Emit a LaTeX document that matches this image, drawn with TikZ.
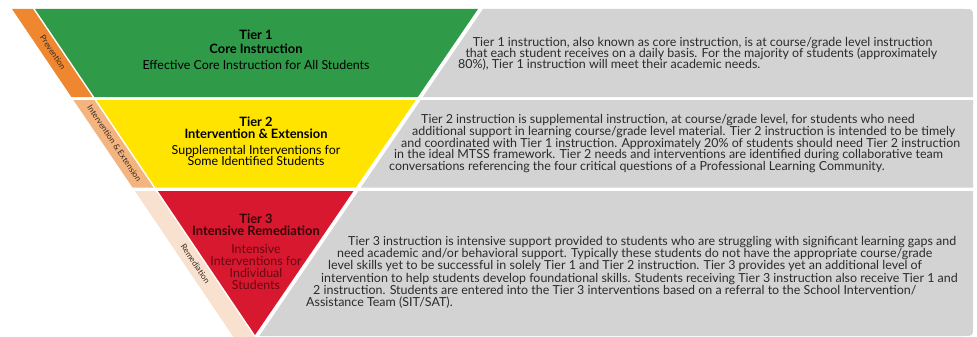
\documentclass[tikz,border=0pt]{standalone}
\usepackage{fontspec}
\setmainfont{Lato}
\definecolor{tgreen}{HTML}{2F9A48}
\definecolor{tyellow}{HTML}{FFE400}
\definecolor{tred}{HTML}{D7182F}
\definecolor{pgray}{HTML}{D3D3D3}
\definecolor{sorange}{HTML}{EE8730}
\definecolor{slight}{HTML}{F3B47F}
\definecolor{speach}{HTML}{F8E1CE}
\definecolor{gtext}{HTML}{2B2B2B}
\definecolor{rhead}{HTML}{33080A}
\definecolor{rsub}{HTML}{660812}
\definecolor{stext}{HTML}{3A2A20}
\newlength\calw
\newcommand\calib[3]{\settowidth\calw{#3}\pgfmathsetmacro#1{10*#2/\calw}}
\begin{document}%
\calib{\gs}{608}{\fontsize{10}{12}\selectfont Tier 3 instruction is intensive support provided to students who are struggling with significant learning gaps and}%
\calib{\hs}{143}{\bfseries\fontsize{10}{12}\selectfont Intervention \& Extension}%
\calib{\ss}{227}{\fontsize{10}{12}\selectfont Effective Core Instruction for All Students}%
\calib{\ls}{90}{\fontsize{10}{12}\selectfont Intervention \& Extension}%
\begin{tikzpicture}[x=1pt,y=-1pt,
  gline/.style={anchor=base west, inner sep=0, text height=7pt, text depth=1.5pt, text=gtext, font=\fontsize{\gs}{12}\selectfont},
  thead/.style={anchor=base, inner sep=0, text height=7pt, text depth=1.5pt, font=\bfseries\fontsize{\hs}{12}\selectfont},
  tsub/.style={anchor=base, inner sep=0, text height=7pt, text depth=1.5pt, font=\fontsize{\ss}{12}\selectfont},
  slabel/.style={inner sep=0, text height=5pt, text depth=1pt, rotate=-56, text=stext, font=\fontsize{\ls}{9}\selectfont}]
\useasboundingbox (0,0) rectangle (977,337);
% side strips
\fill[sorange] (12,9) -- (33,9) -- (92.4,97) -- (71.4,97) -- cycle;
\fill[slight] (73.4,100) -- (94.4,100) -- (153.5,187.5) -- (132.5,187.5) -- cycle;
\fill[speach] (134.9,191) -- (155.9,191) -- (254.4,337) -- (233.4,337) -- cycle;
\node[slabel] (sp) at (52.2,53) {Prevention};
\node[slabel] (si) at (113.6,144) {Intervention \& Extension};
\node[slabel] (sr) at (194.6,264) {Remediation};
% triangle bands
\fill[tgreen] (35,9) -- (478,9) -- (417.8,97) -- (94.4,97) -- cycle;
\fill[tyellow] (96.4,100) -- (415.8,100) -- (355.9,187.5) -- (155.5,187.5) -- cycle;
\fill[tred] (157.9,191) -- (353.5,191) -- (255,335) -- cycle;
% gray panels
\fill[pgray] (483,9) -- (964,9) .. controls (973,9) .. (973,18) -- (973,97) -- (422.8,97) -- cycle;
\fill[pgray] (420.8,100) -- (973,100) -- (973,187.5) -- (360.9,187.5) -- cycle;
\fill[pgray] (358.5,191) -- (973,191) -- (973,327) .. controls (973,336) .. (964,336) -- (259.3,336) -- cycle;
% tier 1 labels
\node[thead] (h1a) at (256,40) {Tier 1};
\node[thead] (h1b) at (256,53) {Core Instruction};
\node[tsub] (s1a) at (256,70) {Effective Core Instruction for All Students};
% tier 2 labels
\node[thead] (h2a) at (256,126) {Tier 2};
\node[thead] (h2b) at (256,138) {Intervention \& Extension};
\node[tsub] (s2a) at (256,154) {Supplemental Interventions for};
\node[tsub] (s2b) at (256,165.5) {Some Identified Students};
% tier 3 labels
\node[thead, text=rhead] (h3a) at (256,223) {Tier 3};
\node[thead, text=rhead] (h3b) at (256,235) {Intensive Remediation};
\node[tsub, text=rsub] (s3a) at (256,253) {Intensive};
\node[tsub, text=rsub] (s3b) at (256,265) {Interventions for};
\node[tsub, text=rsub] (s3c) at (256,277) {Individual};
\node[tsub, text=rsub] (s3d) at (256,289) {Students};
% tier 1 text
\node[gline] (g1a) at (472.7,46.5) {Tier 1 instruction, also known as core instruction, is at course/grade level instruction};
\node[gline] (g1b) at (465.3,57.3) {that each student receives on a daily basis. For the majority of students (approximately};
\node[gline] (g1c) at (457.9,68) {80\%), Tier 1 instruction will meet their academic needs.};
% tier 2 text
\node[gline] (g2a) at (421,123) {Tier 2 instruction is supplemental instruction, at course/grade level, for students who need};
\node[gline] (g2b) at (412,135) {additional support in learning course/grade level material. Tier 2 instruction is intended to be timely};
\node[gline] (g2c) at (401,147) {and coordinated with Tier 1 instruction. Approximately 20\% of students should need Tier 2 instruction};
\node[gline] (g2d) at (394,158.5) {in the ideal MTSS framework. Tier 2 needs and interventions are identified during collaborative team};
\node[gline] (g2e) at (389,170) {conversations referencing the four critical questions of a Professional Learning Community.};
% tier 3 text
\node[gline] (g3a) at (348,245) {Tier 3 instruction is intensive support provided to students who are struggling with significant learning gaps and};
\node[gline] (g3b) at (337,257) {need academic and/or behavioral support. Typically these students do not have the appropriate course/grade};
\node[gline] (g3c) at (328,269.5) {level skills yet to be successful in solely Tier 1 and Tier 2 instruction. Tier 3 provides yet an additional level of};
\node[gline] (g3d) at (321,282) {intervention to help students develop foundational skills. Students receiving Tier 3 instruction also receive Tier 1 and};
\node[gline] (g3e) at (313,294) {2 instruction. Students are entered into the Tier 3 interventions based on a referral to the School Intervention/};
\node[gline] (g3f) at (306,306) {Assistance Team (SIT/SAT).};
\end{tikzpicture}%
\end{document}
